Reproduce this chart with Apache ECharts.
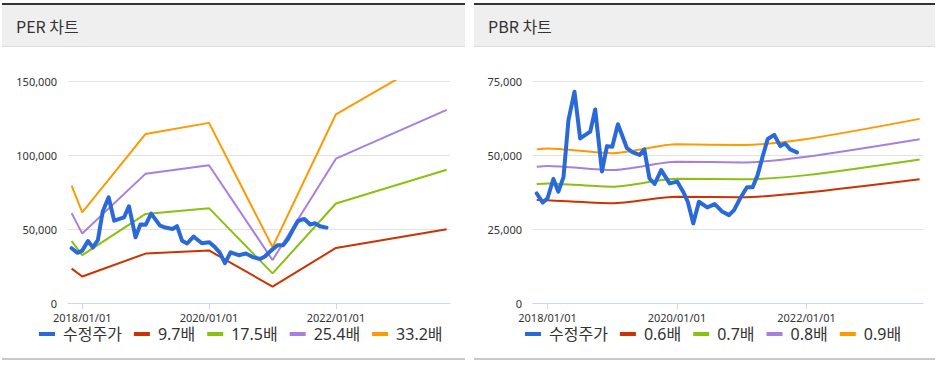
<!DOCTYPE html>
<html><head><meta charset="utf-8">
<script src="https://cdn.jsdelivr.net/npm/echarts@6/dist/echarts.min.js"></script>
<style>
html,body{margin:0;padding:0;background:#fff;}
body{width:936px;height:366px;position:relative;overflow:hidden;font-family:"Noto Sans","Noto Sans CJK KR",sans-serif;}
.panel{position:absolute;top:3px;height:353px;border-top:2px solid #333;border-bottom:2px solid #c8c8c8;}
.hdr{height:41px;background:#efefef;border-bottom:1px solid #dcdcdc;font-size:16px;color:#333;line-height:42px;padding-left:14px;font-family:"Noto Sans CJK KR","Noto Sans",sans-serif;}
#chart{position:absolute;left:0;top:0;width:936px;height:366px;}
</style></head>
<body>
<div class="panel" style="left:2px;width:463px;"><div class="hdr">PER 차트</div></div>
<div class="panel" style="left:474px;width:461px;"><div class="hdr">PBR 차트</div></div>
<div id="chart"></div>
<script>
// ---- data ----
const priceName = '수정주가';
const priceDates = ['2017-11-01','2017-12-05','2018-01-01','2018-02-03','2018-03-03','2018-04-01','2018-04-29','2018-06-02','2018-07-04','2018-08-30','2018-09-27','2018-11-04','2018-12-02','2019-01-01','2019-02-02','2019-03-25','2019-04-25','2019-06-05','2019-07-01','2019-07-30','2019-08-28','2019-10-04','2019-11-21','2020-01-03','2020-02-05','2020-03-02','2020-04-02','2020-05-04','2020-06-20','2020-08-01','2020-09-14','2020-10-21','2020-11-18','2020-12-23','2021-01-30','2021-03-03','2021-03-31','2021-04-28','2021-05-27','2021-07-03','2021-08-06','2021-09-02','2021-10-01','2021-11-08'];
const priceValues = [37000,33900,35400,41900,37600,42500,61800,71400,55600,57900,65400,44400,53000,52800,60400,52300,51000,50000,51900,42100,40200,44900,40400,41000,37600,34200,26900,34200,32300,33400,30800,29700,31400,35400,39100,39100,43200,49400,55400,56800,53000,53900,51900,50900];

const bandDates = ['2017-11-01','2018-01-01','2019-01-01','2020-01-01','2021-01-01','2022-01-01','2023-10-01'];

const perNames = ['9.7배','17.5배','25.4배','33.2배'];
const per97  = [23200,17900,33400,35500,11100,37200,49900];
const per175 = [41800,32300,60200,64100,20000,67200,90000];
const per254 = [60700,46900,87400,93100,29000,97500,130500];
const per332 = [79300,61300,114200,121700,37800,127500,170600];

const pbrNames = ['0.6배','0.7배','0.8배','0.9배'];
const pbr06 = [34800,34700,33700,35900,35700,37300,41800];
const pbr07 = [40200,40400,39300,42000,41800,43200,48500];
const pbr08 = [46000,46300,44900,47700,47500,49400,55300];
const pbr09 = [51900,52200,50600,53600,53400,55400,62200];

const xTickLabels = ['2018/01/01','2020/01/01','2022/01/01'];
const xRange = ['2017-10-11','2023-10-20'];
const perAxis = {min:0, max:150000, interval:50000};
const pbrAxis = {min:0, max:75000, interval:25000};
const colors = ['#2a6ad8','#cc3300','#88c20f','#a97fdc','#ff9900'];

// ---- build ----
const FONT = '"Noto Sans","Noto Sans CJK KR",sans-serif';
const ts = s => { const p = s.split(/[-\/]/).map(Number); return new Date(p[0], p[1]-1, p[2]).getTime(); };
const zip = (d, v) => d.map((x, i) => [ts(x), v[i]]);
const tickTs = xTickLabels.map(ts);
const pad = n => (n < 10 ? '0' : '') + n;
const fmtDate = v => { const d = new Date(v); return d.getFullYear() + '/' + pad(d.getMonth()+1) + '/' + pad(d.getDate()); };

function xAxis(gi){
  return {type:'value', gridIndex:gi, min:ts(xRange[0]), max:ts(xRange[1]), scale:true,
    axisLine:{lineStyle:{color:'#ccd6eb'}},
    axisTick:{customValues:tickTs, length:6, lineStyle:{color:'#ccd6eb'}},
    axisLabel:{customValues:tickTs, formatter:fmtDate, color:'#333', fontSize:11, lineHeight:12, fontFamily:FONT, margin:8},
    splitLine:{show:false}};
}
function yAxis(gi, a){
  return {type:'value', gridIndex:gi, min:a.min, max:a.max, interval:a.interval,
    axisLine:{show:false}, axisTick:{show:false},
    axisLabel:{color:'#333', fontSize:11, lineHeight:11, fontFamily:FONT, margin:11, verticalAlign:'bottom', padding:[0,0,-6,0]},
    splitLine:{lineStyle:{color:'#e3e3e3'}}};
}
function bandSeries(gi, names, arrs, smooth){
  return names.map((n, i) => ({name:n, type:'line', xAxisIndex:gi, yAxisIndex:gi,
    data:zip(bandDates, arrs[i]), showSymbol:false, symbol:'none', smooth:smooth,
    lineStyle:{width:2, color:colors[i+1]}, itemStyle:{color:colors[i+1]}, z:2}));
}
function priceSeries(gi){
  return {name:priceName, type:'line', xAxisIndex:gi, yAxisIndex:gi,
    data:zip(priceDates, priceValues), showSymbol:false, symbol:'none',
    lineStyle:{width:4, color:colors[0], join:'round', cap:'round'}, itemStyle:{color:colors[0]}, z:5};
}
const legendBase = {icon:'rect', itemWidth:16, itemHeight:4, itemGap:12, top:326, padding:0,
  textStyle:{fontSize:16, color:'#333', fontFamily:FONT, padding:[0,0,0,3]}};

const chart = echarts.init(document.getElementById('chart'), null, {renderer:'svg'});
chart.setOption({
  animation:false,
  backgroundColor:'transparent',
  grid:[{left:68, right:486, top:81, bottom:63}, {left:533, right:13, top:81, bottom:63}],
  xAxis:[xAxis(0), xAxis(1)],
  yAxis:[yAxis(0, perAxis), yAxis(1, pbrAxis)],
  legend:[
    Object.assign({}, legendBase, {left:39, data:[priceName].concat(perNames)}),
    Object.assign({}, legendBase, {left:525, data:[priceName].concat(pbrNames)})
  ],
  series:[priceSeries(0)].concat(bandSeries(0, perNames, [per97, per175, per254, per332], false))
    .concat([priceSeries(1)]).concat(bandSeries(1, pbrNames, [pbr06, pbr07, pbr08, pbr09], 0.25))
});
</script>
</body></html>
